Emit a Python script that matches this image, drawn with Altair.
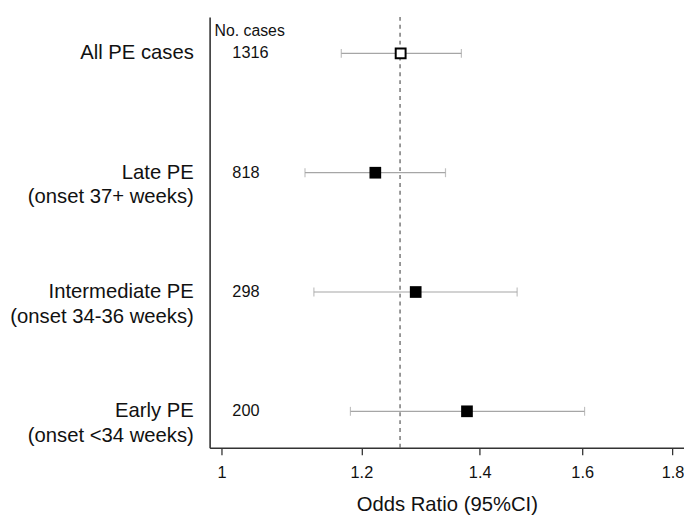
import altair as alt
import pandas as pd

groups = ["All PE cases", "Late PE", "Intermediate PE", "Early PE"]
sublabels = ["", "(onset 37+ weeks)", "(onset 34-36 weeks)", "(onset <34 weeks)"]
cases = ["1316", "818", "298", "200"]
odds_ratio = [1.263, 1.222, 1.288, 1.377]
ci_lower = [1.169, 1.115, 1.128, 1.183]
ci_upper = [1.367, 1.339, 1.470, 1.605]
filled = [False, True, True, True]
reference_or = 1.262
x_ticks = [1, 1.2, 1.4, 1.6, 1.8]

df = pd.DataFrame({
    "group": groups,
    "sub": sublabels,
    "cases": cases,
    "or": odds_ratio,
    "lo": ci_lower,
    "hi": ci_upper,
    "filled": filled,
})
ref_df = pd.DataFrame({"ref": [reference_or]})
head_df = pd.DataFrame({"label": ["No. cases"]})

FONT = "Liberation Sans"

xscale = alt.Scale(type="log", domain=[0.9847, 1.827], nice=False, zero=False)
yscale = alt.Scale(type="point", domain=groups, padding=0.306)

x_axis = alt.Axis(
    title="Odds Ratio (95%CI)",
    values=x_ticks,
    format="~g",
    grid=False,
    domainColor="#333333",
    domainWidth=1.6,
    tickColor="#333333",
    tickWidth=1.3,
    tickSize=7,
    labelFont=FONT,
    labelFontSize=16.5,
    labelColor="#111111",
    labelPadding=10,
    labelFlush=False,
    titleFont=FONT,
    titleFontSize=20.5,
    titleFontWeight="normal",
    titleColor="#111111",
    titlePadding=14,
)
y_axis = alt.Axis(
    title=None,
    labels=False,
    ticks=False,
    grid=False,
    domainColor="#333333",
    domainWidth=1.6,
)

y_enc = alt.Y("group:N", scale=yscale, axis=y_axis)

base = alt.Chart(df)

ci = base.mark_rule(color="#a6a6a6", strokeWidth=1.2).encode(
    x=alt.X("lo:Q", scale=xscale, axis=x_axis), x2="hi:Q", y=y_enc
)

cap_lo = base.mark_tick(color="#a6a6a6", size=9, thickness=1.2, orient="vertical").encode(
    x=alt.X("lo:Q", scale=xscale), y=alt.Y("group:N", scale=yscale)
)
cap_hi = base.mark_tick(color="#a6a6a6", size=9, thickness=1.2, orient="vertical").encode(
    x=alt.X("hi:Q", scale=xscale), y=alt.Y("group:N", scale=yscale)
)

ref_line = alt.Chart(ref_df).mark_rule(
    color="#555555", strokeWidth=1.2, strokeDash=[4, 4]
).encode(x=alt.X("ref:Q", scale=xscale))

points_filled = base.transform_filter("datum.filled").mark_square(
    size=140, color="black", opacity=1
).encode(x=alt.X("or:Q", scale=xscale), y=alt.Y("group:N", scale=yscale))

points_open = base.transform_filter("!datum.filled").mark_square(
    size=100, fill="white", stroke="black", strokeWidth=2, filled=True, opacity=1
).encode(x=alt.X("or:Q", scale=xscale), y=alt.Y("group:N", scale=yscale))

labels = base.mark_text(
    align="right", baseline="middle", font=FONT, fontSize=20.5, color="#111111"
).encode(x=alt.value(-16), y=alt.Y("group:N", scale=yscale), text="group:N")

sub_labels = base.mark_text(
    align="right", baseline="middle", font=FONT, fontSize=20.5, color="#111111", dy=25
).encode(x=alt.value(-16), y=alt.Y("group:N", scale=yscale), text="sub:N")

case_text = base.mark_text(
    align="left", baseline="middle", font=FONT, fontSize=16.5, color="#111111"
).encode(x=alt.value(23), y=alt.Y("group:N", scale=yscale), text="cases:N")

head = alt.Chart(head_df).mark_text(
    align="left", baseline="middle", font=FONT, fontSize=16, color="#111111"
).encode(x=alt.value(5), y=alt.value(14), text="label:N")

chart = alt.layer(
    ci, ref_line, cap_lo, cap_hi, points_filled, points_open,
    labels, sub_labels, case_text, head
).properties(
    width=480,
    height=436,
    background="white",
    autosize=alt.AutoSizeParams(type="none"),
    padding={"left": 204, "top": 6, "right": 0, "bottom": 68},
).configure_view(stroke=None)

chart.save("out.html", embed_options={"renderer": "svg", "actions": False})
